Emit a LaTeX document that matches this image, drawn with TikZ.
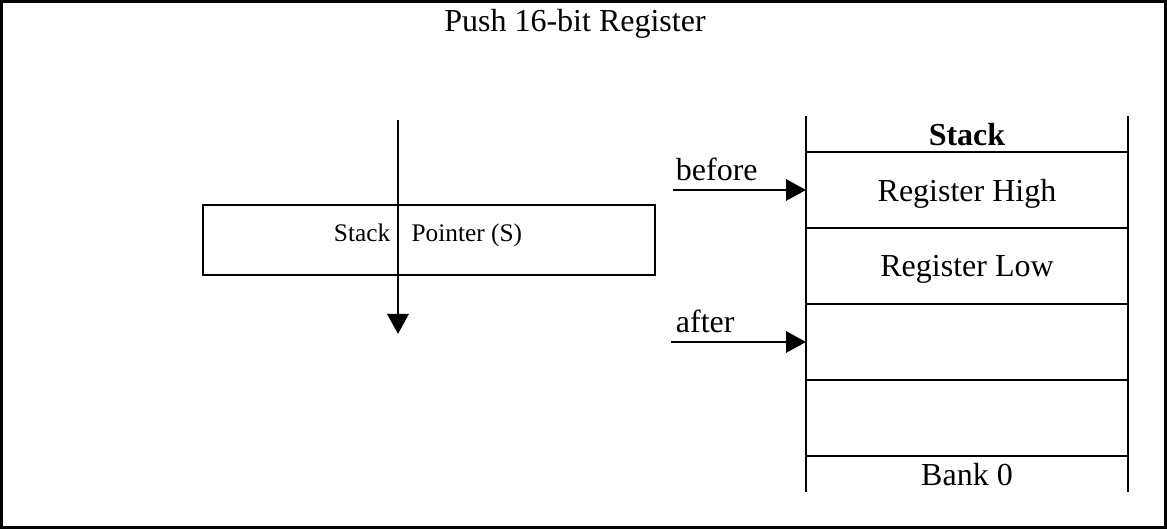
\documentclass[tikz,border=0pt]{standalone}
\usepackage{fontspec}
\setmainfont{Liberation Serif}
\usetikzlibrary{positioning,arrows.meta}

\begin{document}
\begin{tikzpicture}[x=0.375pt,y=-0.375pt,font=\fontsize{12}{14}\selectfont,
  >={Triangle[length=7.5pt,width=8pt]},line width=0.75pt,node distance=0pt]
\tikzstyle{slot}=[minimum width=120.75pt,minimum height=28.5pt,inner sep=0pt,
  outer sep=0pt,text depth=0pt]
\tikzstyle{edge}=[minimum width=120.75pt,minimum height=13.5pt,inner sep=0pt,
  outer sep=0pt,text depth=0pt]
\tikzstyle{spbox}=[draw,minimum width=169.5pt,minimum height=26.25pt,inner sep=0pt]
\tikzstyle{small}=[font=\fontsize{9.5}{11}\selectfont]

\useasboundingbox (0,0) rectangle (1167,529);
\draw[line width=1pt] (1.5,1.5) rectangle (1165.5,527.5);

\node[anchor=base] (title) at (575,32) {Push 16-bit Register};

% stack pointer register
\node[spbox] (sp) at (429,240) {};
\node[small,anchor=base] (spname) at (428,242) {Stack\hspace{8pt}Pointer (S)};
\coordinate (spTop) at (398,120);
\coordinate (spBot) at (398,334);
\draw[->] (spTop) -- (spBot);

% stack memory
\node[edge,anchor=north] (hdr) at (967,116) {\textbf{Stack}};
\node[slot,below=of hdr] (hi) {Register High};
\node[slot,below=of hi] (lo) {Register Low};
\node[slot,below=of lo] (fr1) {};
\node[slot,below=of fr1] (fr2) {};
\node[edge,below=of fr2] (bank) {Bank 0};

\draw (hdr.north west) -- (bank.south west);
\draw (hdr.north east) -- (bank.south east);
\foreach \c in {hdr,hi,lo,fr1,fr2}
  \draw (\c.south west) -- (\c.south east);

% pointer before / after
\coordinate (befTail) at (673,190);
\coordinate (aftTail) at (671,342);
\node[anchor=base west] (bef) at (666,181) {before};
\node[anchor=base west] (aft) at (666,333) {after};
\draw[->] (befTail) -- (hi.west);
\draw[->] (aftTail) -- (fr1.west);
\end{tikzpicture}
\end{document}
